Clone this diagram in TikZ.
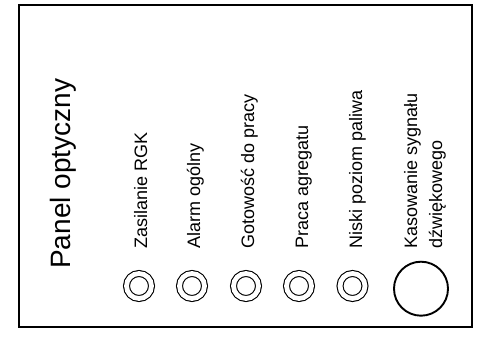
\documentclass[tikz,border=0pt]{standalone}
\usepackage{fontspec}
\setmainfont{Liberation Sans}
\usetikzlibrary{positioning}
\tikzset{
  panelframe/.style={draw=black,line width=1.2pt},
  paneltitle/.style={rotate=90,anchor=base west,inner sep=0pt,
    font=\fontsize{28}{34}\selectfont},
  signaltext/.style={rotate=90,anchor=base west,inner sep=0pt,align=left,
    font=\fontsize{18}{25}\selectfont},
  lamp/.style={circle,draw=black,double,double distance=4.8pt,line width=1.1pt,
    minimum size=25pt,inner sep=0pt},
  resetbutton/.style={circle,draw=black,line width=1.9pt,
    minimum size=54pt,inner sep=0pt}
}

\begin{document}
\begin{tikzpicture}[x=1pt,y=1pt]
  \useasboundingbox (0,0) rectangle (477,337);
  \draw[panelframe] (19,10) rectangle (472,332);
  \node[paneltitle] (title) at (70,68) {Panel optyczny};
  \node[signaltext] (zasilanie) at (147,88.5) {Zasilanie RGK};
  \node[signaltext] (alarm) at (200,88.5) {Alarm ogólny};
  \node[signaltext] (gotowosc) at (254,88.5) {Gotowość do pracy};
  \node[signaltext] (praca) at (308,88.5) {Praca agregatu};
  \node[signaltext] (paliwo) at (362,88.5) {Niski poziom paliwa};
  \node[signaltext] (kasowanie) at (442,88.5) {Kasowanie sygnału\\dźwiękowego};
  \node[lamp] (lampzasilanie) at (139,51) {};
  \node[lamp] (lampalarm) at (192,51) {};
  \node[lamp] (lampgotowosc) at (246,51) {};
  \node[lamp] (lamppraca) at (299,51) {};
  \node[lamp] (lamppaliwo) at (352.5,51) {};
  \node[resetbutton] (reset) at (421,48.3) {};
\end{tikzpicture}
\end{document}
